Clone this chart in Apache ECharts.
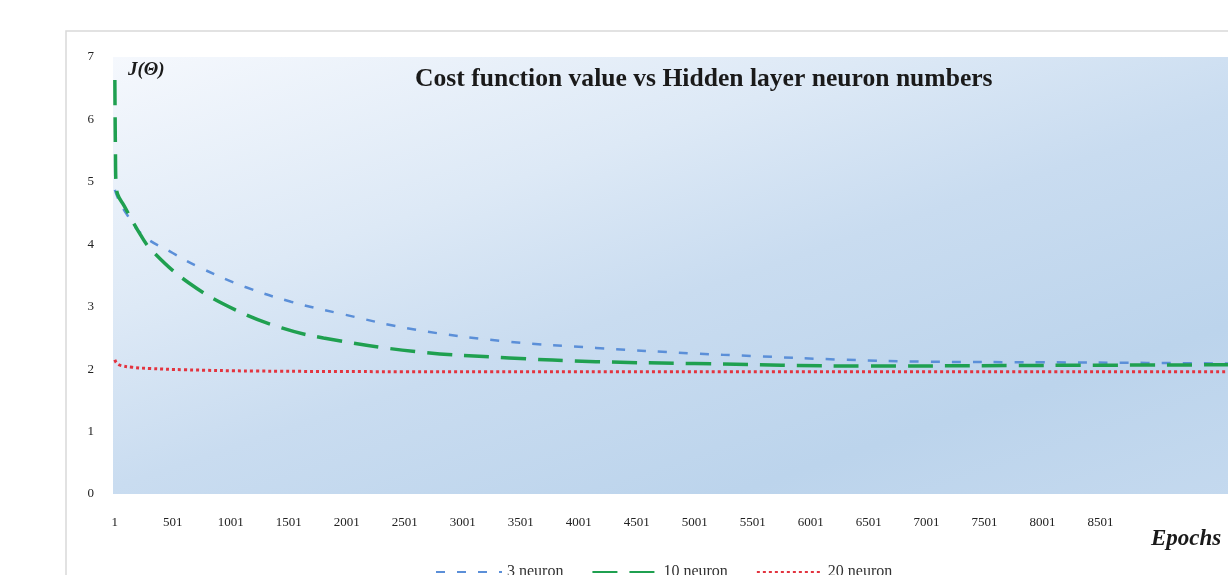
<!DOCTYPE html>
<html>
<head>
<meta charset="utf-8">
<script src="https://cdn.jsdelivr.net/npm/echarts@6/dist/echarts.min.js"></script>
<style>html,body{margin:0;padding:0;background:#fff;}#c{width:1228px;height:575px;}</style>
</head>
<body>
<div id="c"></div>
<script>
// ---- data ----
const seriesNames = ['3 neuron', '10 neuron', '20 neuron'];
const xTickLabels = [1, 501, 1001, 1501, 2001, 2501, 3001, 3501, 4001, 4501, 5001, 5501, 6001, 6501, 7001, 7501, 8001, 8501];
const yTicks = [0, 1, 2, 3, 4, 5, 6, 7];

const epochs3 = [1, 25, 80, 240, 500, 720, 1120, 1520, 1920, 2600, 3400, 4150, 5000, 5500, 6300, 7000, 8000, 8900, 9600];
const cost3   = [4.87, 4.75, 4.55, 4.15, 3.86, 3.64, 3.32, 3.08, 2.90, 2.63, 2.44, 2.34, 2.25, 2.21, 2.15, 2.12, 2.11, 2.10, 2.09];

const epochs10 = [1, 3, 6, 10, 25, 80, 200, 320, 640, 1040, 1440, 1800, 2600, 3400, 4150, 5000, 6500, 8000, 9600];
const cost10   = [6.63, 6.10, 5.50, 5.00, 4.80, 4.62, 4.22, 3.90, 3.38, 2.95, 2.66, 2.50, 2.28, 2.18, 2.12, 2.09, 2.05, 2.06, 2.07];

const epochs20 = [1, 15, 50, 150, 300, 600, 1200, 2500, 5000, 9600];
const cost20   = [2.15, 2.10, 2.06, 2.03, 2.01, 1.99, 1.97, 1.96, 1.96, 1.96];

const pair = (xs, ys) => xs.map((x, i) => [x, ys[i]]);

const serif = '"Liberation Serif", "Times New Roman", serif';
const chart = echarts.init(document.getElementById('c'), null, {renderer: 'canvas'});

chart.setOption({
  animation: false,
  backgroundColor: '#ffffff',
  title: {
    text: 'Cost function value vs Hidden layer neuron numbers',
    left: 415, top: 66, padding: 0,
    textStyle: {fontFamily: serif, fontSize: 25.6, fontWeight: 'bold', color: '#1a1a1a'}
  },
  graphic: [
    {type: 'rect', z: -10, silent: true,
     shape: {x: 66, y: 31, width: 1300, height: 700},
     style: {fill: 'none', stroke: '#d9d9d9', lineWidth: 1.5}},
    {type: 'text', left: 128, top: 61, z: 100,
     style: {text: 'J(Θ)', font: 'italic bold 19px ' + serif, fill: '#1a1a1a'}},
    {type: 'text', left: 1151, top: 528, z: 100,
     style: {text: 'Epochs', font: 'italic bold 23px ' + serif, fill: '#1a1a1a'}}
  ],
  legend: {
    left: 430, top: 559,
    itemWidth: 66, itemHeight: 14, itemGap: 28,
    itemStyle: {opacity: 0},
    textStyle: {fontFamily: serif, fontSize: 16, color: '#333'},
    data: seriesNames
  },
  grid: {
    left: 113, top: 57, width: 1201, height: 437,
    show: true, borderWidth: 0,
    backgroundColor: {
      type: 'linear', x: 0, y: 0, x2: 0.234, y2: 1.766,
      colorStops: [
        {offset: 0, color: '#f5f8fd'},
        {offset: 0.3, color: '#dde9f6'},
        {offset: 0.5, color: '#c9dcf0'},
        {offset: 0.75, color: '#bcd4ec'},
        {offset: 1, color: '#c6daef'}
      ]
    }
  },
  xAxis: {
    type: 'value', min: -15, max: 9600,
    axisLine: {show: false}, axisTick: {show: false}, splitLine: {show: false},
    axisLabel: {customValues: xTickLabels, formatter: v => String(v), margin: 22,
                fontFamily: serif, fontSize: 13, color: '#222'}
  },
  yAxis: {
    type: 'value', min: yTicks[0], max: yTicks[yTicks.length - 1], interval: 1,
    axisLine: {show: false}, axisTick: {show: false}, splitLine: {show: false},
    axisLabel: {margin: 19, fontFamily: serif, fontSize: 13, color: '#222'}
  },
  series: [
    {name: seriesNames[0], type: 'line', data: pair(epochs3, cost3), smooth: 0.4,
     symbol: 'none', color: '#5b8fd8',
     lineStyle: {width: 2.5, type: [9, 12], color: '#5b8fd8'}},
    {name: seriesNames[1], type: 'line', data: pair(epochs10, cost10), smooth: 0.4,
     symbol: 'none', color: '#1fa050',
     lineStyle: {width: 3.5, type: [25, 12], color: '#1fa050'}},
    {name: seriesNames[2], type: 'line', data: pair(epochs20, cost20), smooth: 0.4,
     symbol: 'none', color: '#e3343f',
     lineStyle: {width: 3, type: [3, 3], color: '#e3343f'}}
  ]
});
</script>
</body>
</html>
